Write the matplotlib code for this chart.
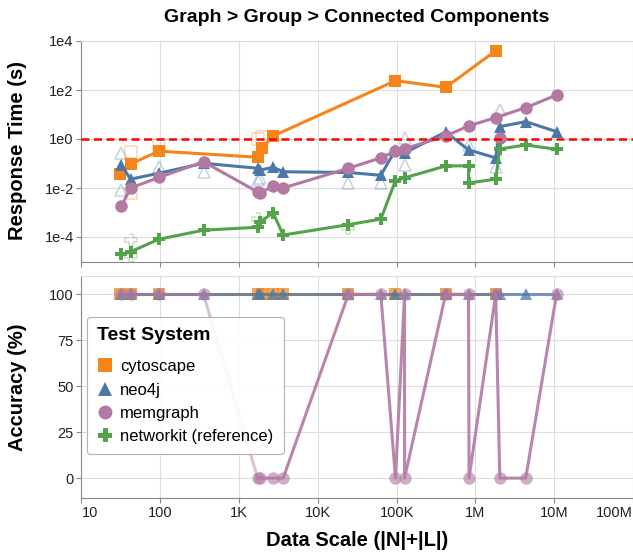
import matplotlib
matplotlib.use("Agg")
import matplotlib.pyplot as plt
from matplotlib.lines import Line2D
from matplotlib.ticker import FixedLocator, NullFormatter, NullLocator

plt.rcParams["font.family"] = ["Liberation Sans", "DejaVu Sans"]

# ---- data ----
systems = ["cytoscape", "neo4j", "memgraph", "networkit (reference)"]
colors = ["#f58518", "#4c78a8", "#b279a2", "#54a24b"]

# response time (s), mean per dataset
cyto_time_x = [31, 42, 96, 1720, 1950, 2700, 96600, 421000, 1.81e6]
cyto_time_y = [0.036, 0.095, 0.32, 0.18, 0.42, 1.32, 240, 129, 4020]
neo_time_x = [32, 42, 96, 354, 1720, 1850, 2700, 3630, 24400, 63000, 96600,
              126000, 418000, 817000, 1.81e6, 2.04e6, 4.35e6, 1.07e7]
neo_time_y = [0.087, 0.023, 0.040, 0.102, 0.064, 0.054, 0.070, 0.046, 0.043,
              0.033, 0.36, 0.27, 1.93, 0.36, 0.17, 3.2, 5.1, 2.0]
mem_time_x = [32, 42, 96, 354, 1720, 1850, 2700, 3630, 24400, 63000, 96600,
              126000, 418000, 817000, 1.81e6, 4.35e6, 1.07e7]
mem_time_y = [0.0018, 0.010, 0.027, 0.118, 0.0069, 0.0063, 0.012, 0.010, 0.064,
              0.17, 0.32, 0.40, 1.32, 3.4, 7.5, 19, 62.5]
mem_single_x = [2.04e6]
mem_single_y = [1.07]
net_time_x = [32, 42, 96, 354, 1720, 1850, 2700, 3630, 24400, 63000, 96600,
              126000, 418000, 817000, 817000, 1.81e6, 2.04e6, 4.35e6, 1.07e7]
net_time_y = [2.0e-5, 2.5e-5, 8.1e-5, 1.9e-4, 2.5e-4, 4.1e-4, 9.8e-4, 1.2e-4,
              3.2e-4, 5.4e-4, 0.020, 0.026, 0.079, 0.081, 0.016, 0.023, 0.39,
              0.57, 0.38]

# individual runs (faint hollow markers)
cyto_runs_x = [42, 42, 96, 1720, 1950]
cyto_runs_y = [0.30, 0.0063, 0.57, 1.0, 1.2]
neo_runs_x = [32, 32, 96, 354, 1720, 1850, 24400, 63000, 126000, 126000,
              817000, 1.81e6, 2.04e6]
neo_runs_y = [0.27, 0.0083, 0.074, 0.046, 0.021, 0.026, 0.016, 0.016, 1.07,
              0.087, 0.57, 0.074, 15]
net_runs_x = [42, 42, 1720, 24400]
net_runs_y = [7.6e-5, 1.6e-5, 5.4e-4, 2.3e-4]

# accuracy (%)
cyto_acc_x = [31, 42, 96, 1720, 1950, 2700, 3630, 24400, 96600, 421000, 1.81e6]
cyto_acc_y = [100, 100, 100, 100, 100, 100, 100, 100, 100, 100, 100]
neo_acc_x = [32, 42, 96, 354, 1720, 1850, 2700, 3630, 24400, 63000, 96600,
             126000, 418000, 817000, 1.81e6, 2.04e6, 4.35e6, 1.07e7]
neo_acc_y = [100, 100, 100, 100, 100, 100, 100, 100, 100, 100, 100, 100, 100,
             100, 100, 100, 100, 100]
mem_acc_x = [32, 42, 96, 354, 1720, 1850, 2700, 3630, 24400, 63000, 96600,
             126000, 126000, 418000, 817000, 830000, 1.81e6, 2.04e6, 4.35e6, 1.07e7]
mem_acc_y = [100, 100, 100, 100, 0, 0, 0, 0, 100, 100, 0, 100, 0, 100, 100, 0,
             100, 0, 0, 100]

x_ticks = [1e1, 1e2, 1e3, 1e4, 1e5, 1e6, 1e7, 1e8]
x_labels = ["10", "100", "1K", "10K", "100K", "1M", "10M", "100M"]
time_ticks = [1e4, 1e2, 1e0, 1e-2, 1e-4]
time_labels = ["1e4", "1e2", "1e0", "1e-2", "1e-4"]
acc_ticks = [0, 25, 50, 75, 100]

# thick vega-like cross marker
a = 0.36
cross = [(-a, 1), (a, 1), (a, a), (1, a), (1, -a), (a, -a), (a, -1), (-a, -1),
         (-a, -a), (-1, -a), (-1, a), (-a, a)]
markers = ["s", "^", "o", cross]

W, H = 633, 554
fig = plt.figure(figsize=(W / 100, H / 100), dpi=100, facecolor="white")

left, right = 81.5, 633.0
ax_t = fig.add_axes([left / W, 1 - 261.5 / H, (right - left) / W, 220.5 / H])
ax_b = fig.add_axes([left / W, 1 - 498.3 / H, (right - left) / W, 222.3 / H])

tick_col = "#888888"
grid_col = "#dddddd"
LW = 2.2
MS = 9.0

for ax in (ax_t, ax_b):
    ax.set_xscale("log")
    ax.set_xlim(1e1, 1e8)
    ax.xaxis.set_major_locator(FixedLocator(x_ticks))
    ax.xaxis.set_minor_locator(NullLocator())
    ax.grid(True, color=grid_col, linewidth=0.8, zorder=0)
    ax.set_axisbelow(True)
    for side in ("top", "right"):
        ax.spines[side].set_color(grid_col)
        ax.spines[side].set_linewidth(0.8)
    for side in ("left", "bottom"):
        ax.spines[side].set_color(tick_col)
        ax.spines[side].set_linewidth(0.8)
    ax.tick_params(axis="both", which="both", length=3.6, width=0.8,
                   color=tick_col, labelsize=10.5, labelcolor="#222222", pad=2)

# ---- top: response time ----
ax_t.set_yscale("log")
ax_t.set_ylim(1e-5, 1e4)
ax_t.yaxis.set_major_locator(FixedLocator(time_ticks))
ax_t.yaxis.set_minor_locator(NullLocator())
ax_t.set_yticklabels(time_labels)
ax_t.xaxis.set_major_formatter(NullFormatter())

runs = [(cyto_runs_x, cyto_runs_y), (neo_runs_x, neo_runs_y), None,
        (net_runs_x, net_runs_y)]
for (rx_ry, c, m) in zip(runs, colors, markers):
    if rx_ry is None:
        continue
    ax_t.plot(rx_ry[0], rx_ry[1], linestyle="none", marker=m, markersize=MS,
              markerfacecolor="none", markeredgecolor=c, markeredgewidth=1.2,
              alpha=0.3, zorder=2)

series = [(cyto_time_x, cyto_time_y), (neo_time_x, neo_time_y),
          (mem_time_x, mem_time_y), (net_time_x, net_time_y)]
for i, ((sx, sy), c, m) in enumerate(zip(series, colors, markers)):
    ax_t.plot(sx, sy, color=c, linewidth=LW, marker=m, markersize=MS,
              markeredgewidth=0, zorder=3 + i)
ax_t.plot(mem_single_x, mem_single_y, linestyle="none", color=colors[2],
          marker="o", markersize=MS, markeredgewidth=0, zorder=5)

ax_t.axhline(1.0, color="red", linewidth=1.8, dashes=(3.2, 1.8), zorder=8)

# ---- bottom: accuracy ----
ax_b.set_ylim(-11, 110)
ax_b.yaxis.set_major_locator(FixedLocator(acc_ticks))
ax_b.set_xticklabels(x_labels)
xl = ax_b.get_xticklabels()
xl[0].set_horizontalalignment("left")
xl[-1].set_horizontalalignment("right")

ax_b.plot(cyto_acc_x, cyto_acc_y, color=colors[0], linewidth=LW, marker="s",
          markersize=MS, markeredgewidth=0, alpha=0.75, zorder=3)
ax_b.plot(neo_acc_x, neo_acc_y, color=colors[1], linewidth=LW, marker="^",
          markersize=MS, markeredgewidth=0, alpha=0.75, zorder=4)
# first drop of memgraph is drawn lighter in the reference
ax_b.plot(mem_acc_x[:5], mem_acc_y[:5], color=colors[2], linewidth=LW,
          alpha=0.45, zorder=5)
ax_b.plot(mem_acc_x[4:], mem_acc_y[4:], color=colors[2], linewidth=LW,
          alpha=0.9, zorder=5)
ax_b.plot(mem_acc_x, mem_acc_y, linestyle="none", color=colors[2], marker="o",
          markersize=MS, markeredgewidth=0, alpha=0.6, zorder=6)

handles = [Line2D([], [], linestyle="none", marker=m, color=c, markersize=10,
                  markeredgewidth=0) for m, c in zip(markers, colors)]
leg = ax_b.legend(handles, systems, title="Test System", loc="upper left",
                  bbox_to_anchor=(0.0099, 0.8156), borderaxespad=0,
                  fontsize=12, title_fontsize=14, frameon=True,
                  handletextpad=0.4, labelspacing=0.5, borderpad=0.6,
                  handlelength=1.0, alignment="left")
leg.get_title().set_fontweight("bold")
leg.get_frame().set_edgecolor("#aaaaaa")
leg.get_frame().set_linewidth(0.8)
leg.get_frame().set_alpha(0.9)
leg.set_zorder(10)
# a bit more room between the legend title and the entries
leg._legend_box.sep = 11

# ---- titles ----
fig.text(357 / W, 1 - 17 / H, "Graph > Group > Connected Components",
         ha="center", va="center", fontsize=14, fontweight="bold")
fig.text(18 / W, 1 - 151 / H, "Response Time (s)", rotation=90, ha="center",
         va="center", fontsize=14.5, fontweight="bold")
fig.text(18 / W, 1 - 387 / H, "Accuracy (%)", rotation=90, ha="center",
         va="center", fontsize=14.5, fontweight="bold")
fig.text(357 / W, 1 - 540 / H, "Data Scale (|N|+|L|)", ha="center",
         va="center", fontsize=14.5, fontweight="bold")

fig.savefig("out.png", dpi=100)
